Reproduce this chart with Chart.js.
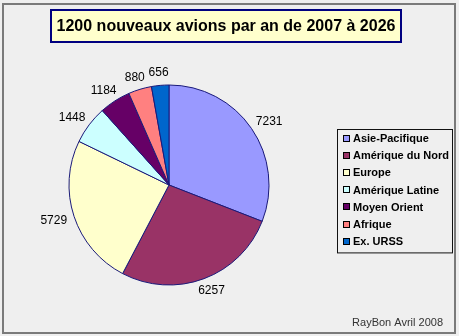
<!DOCTYPE html>
<html>
<head>
<meta charset="utf-8">
<title>1200 nouveaux avions par an de 2007 à 2026</title>
<script src="https://cdn.jsdelivr.net/npm/chart.js@4"></script>
<style>
    html, body { margin: 0; padding: 0; background: #efefef; }
    #wrap { width: 459px; height: 336px; }
</style>
</head>
<body>
<div id="wrap"><canvas id="pie-chart" width="459" height="336"></canvas></div>
<script>
// Chart data
const regions = ['Asie-Pacifique', 'Amérique du Nord', 'Europe', 'Amérique Latine', 'Moyen Orient', 'Afrique', 'Ex. URSS'];
const planes = [7231, 6257, 5729, 1448, 1184, 880, 656];
const sliceColors = ['#9999ff', '#993366', '#ffffcc', '#ccffff', '#660066', '#ff8080', '#0066cc'];
const titleText = '1200 nouveaux avions par an de 2007 à 2026';
const footerText = 'RayBon Avril 2008';

const FONT = 'Arial, "Liberation Sans", sans-serif';

// Background, frame, title box and footer
const decorPlugin = {
    id: 'decor',
    beforeDraw(chart) {
        const ctx = chart.ctx;
        ctx.save();
        ctx.fillStyle = '#efefef';
        ctx.fillRect(0, 0, chart.width, chart.height);
        ctx.strokeStyle = '#7a7a7a';
        ctx.lineWidth = 2;
        ctx.strokeRect(3, 4, 452, 329);
        ctx.restore();
    },
    afterDraw(chart) {
        const ctx = chart.ctx;
        ctx.save();
        // Title box
        ctx.fillStyle = '#ffffcc';
        ctx.fillRect(51, 10, 350, 32);
        ctx.strokeStyle = '#000080';
        ctx.lineWidth = 2;
        ctx.strokeRect(51, 10, 350, 32);
        ctx.fillStyle = '#000000';
        ctx.font = 'bold 16px ' + FONT;
        ctx.textAlign = 'center';
        ctx.textBaseline = 'middle';
        ctx.fillText(titleText, 226, 27);

        // Footer
        ctx.font = '11px ' + FONT;
        ctx.fillStyle = '#333333';
        ctx.textAlign = 'right';
        ctx.fillText(footerText, 443, 323);
        ctx.restore();
    }
};

// Value labels outside each slice
const sliceLabelPlugin = {
    id: 'sliceLabels',
    afterDatasetsDraw(chart) {
        const ctx = chart.ctx;
        const meta = chart.getDatasetMeta(0);
        ctx.save();
        ctx.font = '12px ' + FONT;
        ctx.fillStyle = '#000000';
        ctx.textAlign = 'center';
        ctx.textBaseline = 'middle';
        meta.data.forEach((arc, i) => {
            const p = arc.getProps(['x', 'y', 'startAngle', 'endAngle', 'outerRadius'], true);
            const mid = (p.startAngle + p.endAngle) / 2;
            const text = String(chart.data.datasets[0].data[i]);
            const w = ctx.measureText(text).width;
            const h = 9;
            const r = p.outerRadius + 8;
            const x = p.x + Math.cos(mid) * (r + w / 2);
            const y = p.y + Math.sin(mid) * r + Math.sin(mid) * h / 2;
            ctx.fillText(text, x, y);
        });
        ctx.restore();
    }
};

// Boxed legend on the right
const boxLegendPlugin = {
    id: 'boxLegend',
    afterDraw(chart) {
        const ctx = chart.ctx;
        const ds = chart.data.datasets[0];
        const left = 337, top = 129, width = 115, rowH = 17.2;
        const height = rowH * chart.data.labels.length + 3;
        ctx.save();
        ctx.strokeStyle = '#111111';
        ctx.lineWidth = 1;
        ctx.strokeRect(left + 0.5, top + 0.5, width, height);
        ctx.font = 'bold 11px ' + FONT;
        ctx.textAlign = 'left';
        ctx.textBaseline = 'middle';
        chart.data.labels.forEach((label, i) => {
            const cy = top + 9.5 + i * rowH;
            ctx.fillStyle = ds.backgroundColor[i];
            ctx.fillRect(left + 6, Math.round(cy - 4), 7, 7);
            ctx.strokeStyle = '#000000';
            ctx.strokeRect(left + 6.5, Math.round(cy - 4) + 0.5, 6, 6);
            ctx.fillStyle = '#000000';
            ctx.fillText(label, left + 16, cy + 0.5);
        });
        ctx.restore();
    }
};

document.addEventListener('DOMContentLoaded', function() {
    const canvas = document.getElementById('pie-chart');

    new Chart(canvas, {
        type: 'pie',
        data: {
            labels: regions,
            datasets: [{
                data: planes,
                backgroundColor: sliceColors,
                borderColor: '#1a1a7a',
                borderWidth: 1,
                hoverOffset: 0
            }]
        },
        options: {
            responsive: false,
            animation: false,
            radius: 100,
            layout: {
                padding: { left: 69, right: 190, top: 85, bottom: 51 }
            },
            plugins: {
                legend: { display: false },
                title: { display: false },
                tooltip: { enabled: false }
            }
        },
        plugins: [decorPlugin, sliceLabelPlugin, boxLegendPlugin]
    });
});
</script>
</body>
</html>
